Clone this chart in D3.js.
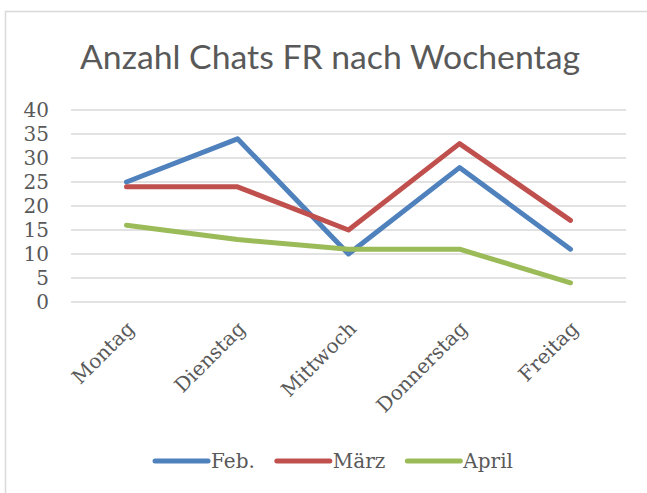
<!DOCTYPE html>
<html>
<head>
<meta charset="utf-8">
<script src="https://cdn.jsdelivr.net/npm/d3@7"></script>
<style>
  body { margin: 0; background: #fff; }
  svg { display: block; }
</style>
</head>
<body>
<svg id="chart" width="647" height="493"></svg>
<script>
// chart data
const days = ["Montag", "Dienstag", "Mittwoch", "Donnerstag", "Freitag"];
const seriesNames = ["Feb.", "März", "April"];
const feb = [25, 34, 10, 28, 11];
const maerz = [24, 24, 15, 33, 17];
const april = [16, 13, 11, 11, 4];
const yTicks = [0, 5, 10, 15, 20, 25, 30, 35, 40];
const colors = ["#4F81BD", "#C0504D", "#9BBB59"];

const allSeries = [feb, maerz, april];

const svg = d3.select("#chart");
const textColor = "#595959";
const serif = "'DejaVu Serif', serif";

// frame (only top and left edges are visible)
svg.append("path")
   .attr("d", "M5.5,493 V11.5 H647")
   .attr("fill", "none")
   .attr("stroke", "#D9D9D9")
   .attr("stroke-width", 1.5);

// title
const title = svg.append("text")
   .attr("x", 330)
   .attr("y", 69)
   .attr("text-anchor", "middle")
   .attr("fill", textColor)
   .style("font-family", "Lato, 'Open Sans', sans-serif")
   .style("font-size", "32px")
   .text("Anzahl Chats FR nach Wochentag");
// fit the title to the width it takes in the reference
const tw = title.node().getComputedTextLength();
title.style("font-size", (32 * 500 / tw) + "px");

// scales
const x = d3.scaleBand().domain(days).range([71, 626]);
const y = d3.scaleLinear().domain([0, 40]).range([302, 110]);

// gridlines
svg.append("g")
   .selectAll("line")
   .data(yTicks)
   .enter().append("line")
   .attr("x1", 71)
   .attr("x2", 626)
   .attr("y1", d => y(d))
   .attr("y2", d => y(d))
   .attr("stroke", "#D9D9D9")
   .attr("stroke-width", 1.5);

// y axis labels
const yAxis = svg.append("g")
   .attr("transform", "translate(59,0)")
   .call(d3.axisLeft(y).tickValues(yTicks).tickSize(0).tickPadding(10));
yAxis.select(".domain").remove();
yAxis.selectAll("text")
   .attr("fill", textColor)
   .style("font-family", serif)
   .style("font-size", "20px");

// x axis labels, rotated
const xAxis = svg.append("g")
   .attr("transform", "translate(0,302)")
   .call(d3.axisBottom(x).tickSize(0));
xAxis.select(".domain").remove();
xAxis.selectAll("text")
   .attr("fill", textColor)
   .style("font-family", serif)
   .style("font-size", "20px")
   .attr("text-anchor", "end")
   .attr("dy", null)
   .attr("y", 0)
   .attr("transform", "translate(9,28) rotate(-45)");

// lines
const line = d3.line()
   .x((d, i) => x(days[i]) + x.bandwidth() / 2)
   .y(d => y(d));

svg.append("g")
   .selectAll("path")
   .data(allSeries)
   .enter().append("path")
   .attr("d", line)
   .attr("fill", "none")
   .attr("stroke", (d, i) => colors[i])
   .attr("stroke-width", 5)
   .attr("stroke-linejoin", "round")
   .attr("stroke-linecap", "round");

// legend
const legend = svg.append("g");
let lx = 0;
seriesNames.forEach((name, i) => {
   const item = legend.append("g").attr("transform", "translate(" + lx + ",0)");
   item.append("line")
      .attr("x1", 2).attr("x2", 55)
      .attr("y1", 0).attr("y2", 0)
      .attr("stroke", colors[i])
      .attr("stroke-width", 5)
      .attr("stroke-linecap", "round");
   const t = item.append("text")
      .attr("x", 58)
      .attr("y", 7)
      .attr("fill", textColor)
      .style("font-family", serif)
      .style("font-size", "20px")
      .text(name);
   lx += 58 + t.node().getComputedTextLength() + 20;
});
const legendWidth = lx - 20;
legend.attr("transform", "translate(" + (333 - legendWidth / 2) + ",461)");
</script>
</body>
</html>
